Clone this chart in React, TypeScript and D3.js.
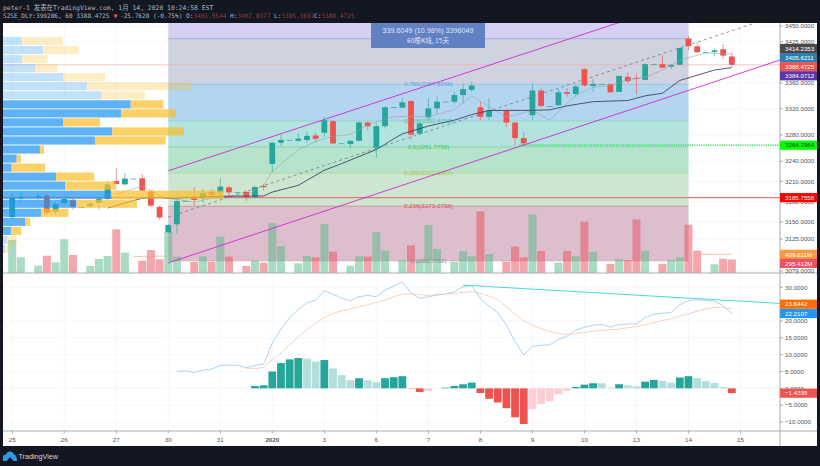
import React from "react";
import * as d3 from "d3";

const W = 820, H = 466;
const paneL = 3, axisX = 780, paneR = 817, top = 23, priceBottom = 273, macdBottom = 431, timeBottom = 446;

const firstSlot = -18;
// open, high, low, close per slot; flat bars carry no trades
const candles: number[][] = [
  [3157,3193,3153,3185.4],[3184.6,3193,3179,3187],[3187,3187,3187,3187],[3186,3193,3182,3188],[3189,3191.6,3161.6,3163.6],[3165,3179,3161,3176],
  [3178,3188,3174,3184],[3182,3186,3168,3172],[3172,3172,3172,3172],[3173,3179,3171,3177],[3178,3187,3168,3184],[3184,3210.5,3182,3205.5],
  [3210.5,3229.5,3205.5,3206],[3205.5,3222.5,3203.5,3214],[3214,3214,3214,3214],[3214.5,3220.5,3195,3196.3],[3195,3197,3172,3174],[3172,3174,3153,3156.5],
  [3135,3147,3134,3145.5],[3146.6,3185.4,3133.3,3180.7],[3180.7,3180.7,3180.7,3180.7],[3186.5,3201,3174.5,3182.3],[3185,3197.8,3178,3192.7],[3194.2,3198,3188,3190],
  [3193.6,3214.5,3185.4,3202],[3201,3204.5,3185,3193.6],[3193.6,3193.6,3193.6,3193.6],[3194.2,3196,3181,3186.5],[3186.5,3203.5,3185,3201.5],[3203,3206.5,3196,3201.4],
  [3236,3270,3223.5,3268],[3268,3280,3263,3272.3],[3272.3,3272.3,3272.3,3272.3],[3271,3282.2,3269,3274.3],[3272.3,3284.7,3268,3278.5],[3279,3284.2,3268,3274],
  [3283.2,3307.6,3277,3302.5],[3300.9,3303.2,3266,3267],[3267,3267,3267,3267],[3266,3272,3260,3271],[3271,3300.2,3269.6,3298.9],[3298.9,3300.2,3287.2,3293.2],
  [3260.4,3297.8,3245.4,3293.2],[3293.2,3324.2,3289.6,3322.2],[3322.2,3322.2,3322.2,3322.2],[3321.6,3336.2,3321.2,3329.9],[3331.9,3333.2,3272.3,3280.3],[3281.9,3299.2,3279.2,3297.4],
  [3306.7,3336.2,3302.5,3320.6],[3320.6,3338.6,3312.9,3330.9],[3330.9,3330.9,3330.9,3330.9],[3330.9,3346.2,3328.2,3341.2],[3341.2,3359.5,3328.2,3350.4],[3349.3,3362.2,3346.2,3356],
  [3322.2,3330.9,3302.5,3307.6],[3307.6,3336.2,3302.5,3318],[3318,3318,3318,3318],[3316.5,3318.2,3292.2,3298.9],[3298.9,3299.2,3264.5,3275],[3275,3284.2,3263,3267],
  [3310.2,3359.5,3302.2,3348.2],[3348.2,3352.5,3322.2,3324.2],[3324.2,3324.2,3324.2,3324.2],[3325.7,3350.5,3324.2,3345.4],[3345.9,3351.9,3337.7,3343.2],[3342.8,3357,3338.6,3354.5],
  [3381.5,3383.5,3354.5,3356],[3355.5,3365.9,3346.2,3358.5],[3358.5,3358.5,3358.5,3358.5],[3358.1,3359.5,3345.2,3345.4],[3346.2,3371.5,3345.9,3371],[3369.5,3376.5,3359.5,3362.8],
  [3367.9,3375.5,3341.2,3366.3],[3364.8,3390.5,3363.5,3389.5],[3389.5,3389.5,3389.5,3389.5],[3389.5,3404,3383,3383.9],[3385.5,3389.5,3381.5,3388.5],[3388.5,3416,3387.5,3415],
  [3430,3434,3411.8,3418],[3417.5,3424.7,3408,3408.3],[3408.3,3408.3,3408.3,3408.3],[3408.7,3414.4,3401.4,3411.3],[3413,3421,3398,3403],[3401.55,3407.84,3385.17,3388.47],
];
// millions; one per slot
const volumes = [
  726,345,0,160,380,235, 741,396,0,154,308,374, 961,447,0,271,506,301,
  902,359,0,242,367,249, 799,359,0,154,271,227, 1093,594,0,213,374,345,
  1078,469,0,160,367,359, 902,491,0,286,609,264, 1056,528,0,249,477,367,
  1357,418,0,249,579,345, 1283,484,0,227,484,367, 1129,469,0,198,301,286,
  1181,491,0,198,286,345, 1063,491,0,191,315,295.412,
];
const volMaSlotsA = [-4,-2,0];
const volMaValuesA = [360,370,370];
const volMaSlotsB = [61,63,65];
const volMaValuesB = [412,410,409.811];

const maLongSlots = [-7,-3,-1,0,5,11,12,15,18,20,24,26,27,30,33,35,37,42,44,46,49,53,55,57,59,60,63,65];
const maLongValues = [3170.4,3185,3186,3184.6,3187.5,3188.3,3194,3204,3226.6,3236.5,3257.7,3274,3281.5,3293.5,3302.5,3311,3317.5,3317.5,3318.4,3324.5,3331,3332.7,3340,3344,3364,3368,3380.3,3384.07];
const maShortSlots = [-6,-3,-1,0,3,6,9,11,12,15,17,19,21,23,26,30,33,35,39,42,44,47,49,51,53,55,57,59,62,65];
const maShortValues = [3190.8,3203,3189.5,3185,3179,3188,3189.5,3204.5,3224.6,3257.7,3270,3278,3280.5,3295.5,3308,3308,3318.4,3340,3307,3317.5,3303,3340.7,3353.5,3356,3364.7,3369,3380.3,3396,3407,3405.62];

const macdSlots = d3.range(1, 66);
const macdValues = [5,5.2,4.7,5.4,5.7,6.8,6.9,6.8,6.1,6.8,7.2,13.5,17.6,21,23.4,25.4,26.2,29,27.9,26.8,26,27.2,27.6,27.2,29.2,30.3,31.6,28.4,26.7,27.2,27.7,28,28.7,30.2,30.5,26.7,24.4,22.5,18.8,13.8,9.9,12.5,12.8,12.9,14.5,15.5,17.3,18.1,18.7,19,18.2,19,19.1,19.1,21,22,22.3,22.5,24.8,26.1,26.3,26.1,25.9,24.5,22.2107];
const signalSlots = d3.range(9, 66);
const signalValues = [6,5.8,6.3,8.6,10.4,12.9,15.3,17.5,19.3,21,22.2,23,23.6,24.2,24.8,25.5,26.2,27.2,28,28,27.9,27.5,27.8,28,28.2,28.5,28.7,28.2,27.4,26.4,24.2,22,20,18.8,17.7,16.9,16.3,16,16.3,16.6,17,17.2,17.4,17.6,18,18.3,18.9,19.5,20.1,20.7,21.5,22.1,22.9,23.6,24,24,23.6442];
const histSlots = d3.range(10, 66);
const histValues = [0.7,0.9,5,7.5,8.6,9,8.8,7.9,8.4,5.9,3.9,2.4,3,2.4,1.8,3,3.3,3.6,-0.1,-1.1,-0.8,-0.05,0.2,0.7,1.2,1.7,-1.4,-3.1,-4.2,-5.9,-8.6,-10.6,-6.2,-4.7,-3.8,-1.8,-0.7,0.4,1.1,1.5,1.5,0.2,1.2,0.9,0.6,2,2.5,2.2,1.7,3.2,3.6,3,2.1,1.6,0.4,-1.4335];

const profileUp = [8.7,18.2,8.7,14.5,27.3,38.1,44.3,57.8,53.4,27.3,49.5,41.6,16.7,6.2,3.9,24,28.2,49.2,33.3,17.2,10,3.6,1.8,1];
const profileDown = [18.3,16,11.5,10,18.9,47.2,19.9,14.8,24.9,16.6,32.3,32,1.9,1.9,15.2,17.3,22.9,50.8,27.3,12.4,2.3,4.7,4.4,2];
const profileValueArea = [7, 21];

const fibRatios = [1, 0.786, 0.618, 0.5, 0.382, 0.236, 0];
const fibPrices = [3429.78, 3357.8698, 3301.423, 3261.7759, 3222.1287, 3173.0738, 3093.7752];
const fibLabels = ["", "0.786(3357.8698)", "0.618(3301.4230)", "0.5(3261.7759)", "0.382(3222.1287)", "0.236(3173.0738)", "0(3093.7752)"];
const fibFills = ["#cfd2df", "#b4d5ef", "#b2e3df", "#b6e3cb", "#cce6d0", "#dcbecd"];
const fibLineCols = ["#9fa8da", "#90bde6", "#8fd0c8", "#7fd69b", "#b7d88f", "#d98a95", "#d9a5b0"];
const fibTextCols = ["", "#64a8e0", "#4fc3a8", "#43c95a", "#a5cf3a", "#e0524f", "#8a8f9c"];

const priceTicks = [3450, 3425, 3360, 3320, 3280, 3240, 3210, 3180, 3150, 3125, 3079];
const macdTicks = [30, 20, 15, 10, 5, 0, -5, -10];
const dayLabels = ["25","26","27","30","31","2020","3","6","7","8","9","10","13","14","15"];

const channelLower = [[0, 3090.6], [70.55, 3396]];
const channelUpper = [[0, 3225.7], [52.5, 3458]];
const channelMid = [[0, 3157], [67.5, 3454]];
const trendSlots = [34, 70.6];
const trendValues = [30.65, 25.2];

const priceLabels = [
  { v: 3414.2353, bg: "#4a4a4a", fg: "#fff" },
  { v: 3405.6211, bg: "#2e7fb0", fg: "#fff" },
  { v: 3388.4725, bg: "#ef5350", fg: "#fff" },
  { v: 3384.0712, bg: "#5e35a8", fg: "#fff" },
];

const x = d3.scaleLinear().domain([firstSlot, 66]).range([12.2, 740.5]);
const y = d3.scaleLog().domain([3076.2, 3454.9]).range([priceBottom, top]);
const yVol = d3.scaleLinear().domain([0, 5500]).range([priceBottom, top]);
const yMacd = d3.scaleLinear().domain([-10, 30]).range([422, 287.3]);
const profX = d3.scaleLinear().domain([0, 100]).range([paneL, 224]);
const profY = d3.scaleBand<number>().domain(d3.range(profileUp.length)).range([37, 37 + 9 * profileUp.length]).paddingInner(0.1);

const fmt4 = d3.format(".4f");
const axisFont = "'Liberation Sans', sans-serif";
const monoFont = "'DejaVu Sans Mono', 'Noto Sans CJK SC', monospace";
const UP = "#26a69a", DOWN = "#ef5350";

const lineOf = (xs: number[], vs: number[], yScale: (v: number) => number) =>
  d3.line<number>().x((s) => x(s)).y((_, i) => yScale(vs[i]))(xs) || "";
const seg = (pts: number[][]) => d3.line<number[]>().x((p) => x(p[0])).y((p) => y(p[1]))(pts) || "";

const stacked = (vals: number[], scale: (v: number) => number, gap: number) => {
  const out: number[] = [];
  vals.forEach((v, i) => out.push(i === 0 ? scale(v) : Math.max(scale(v), out[i - 1] + gap)));
  return out;
};

function AxisLabel({ yPos, bg, fg, text }: { yPos: number; bg: string; fg: string; text: string }) {
  return (
    <g>
      <rect x={axisX} y={yPos - 4.6} width={paneR - axisX} height={9.2} fill={bg} />
      <text x={785} y={yPos + 2.2} fontSize={6.2} fill={fg} fontFamily={axisFont}>{text}</text>
    </g>
  );
}

export default function App() {
  const bw = 5.8;
  const fibX0 = x(0), fibX1 = x(60);
  const priceStack = stacked(priceLabels.map((l) => l.v), y, 9.1);
  const volStack = stacked([409.811, 295.412], yVol, 9);
  return (
    <svg width={W} height={H} viewBox={`0 0 ${W} ${H}`} style={{ position: "fixed", left: 0, top: 0, display: "block" }}>
      <defs>
        <clipPath id="pricePane"><rect x={paneL} y={top} width={axisX - paneL} height={priceBottom - top} /></clipPath>
        <clipPath id="macdPane"><rect x={paneL} y={priceBottom} width={axisX - paneL} height={macdBottom - priceBottom} /></clipPath>
      </defs>
      <rect width={W} height={H} fill="#131722" />
      <rect x={paneL} y={top} width={paneR - paneL} height={timeBottom - top} fill="#fff" />

      {/* grid */}
      {dayLabels.map((_, i) => (
        <line key={i} x1={x(firstSlot + i * 6)} x2={x(firstSlot + i * 6)} y1={top} y2={macdBottom} stroke="#f0f3fa" strokeWidth={0.7} />
      ))}
      {priceTicks.map((t) => <line key={t} x1={paneL} x2={axisX} y1={y(t)} y2={y(t)} stroke="#f0f3fa" strokeWidth={0.7} />)}
      {macdTicks.map((t) => <line key={t} x1={paneL} x2={axisX} y1={yMacd(t)} y2={yMacd(t)} stroke="#f0f3fa" strokeWidth={0.7} />)}

      {/* fib retracement */}
      <g clipPath="url(#pricePane)">
        <rect x={fibX0} y={top} width={fibX1 - fibX0} height={y(fibPrices[0]) - top} fill="#d3d0f2" />
        {fibFills.map((c, i) => (
          <rect key={i} x={fibX0} y={y(fibPrices[i])} width={fibX1 - fibX0} height={y(fibPrices[i + 1]) - y(fibPrices[i])} fill={c} />
        ))}
        {fibRatios.map((r, i) => (
          <line key={r} x1={fibX0} x2={fibX1} y1={y(fibPrices[i])} y2={y(fibPrices[i])} stroke={fibLineCols[i]} strokeWidth={0.9} />
        ))}
        {/* volume */}
        {volumes.map((v, i) => v > 0 && (
          <rect key={i} x={x(firstSlot + i) - 4} width={8} y={yVol(v)} height={priceBottom - yVol(v)}
            fill={candles[i][3] >= candles[i][0] ? "#53b987" : "#eb4d5c"} opacity={0.5} />
        ))}
        <path d={lineOf(volMaSlotsA, volMaValuesA, yVol)} fill="none" stroke="#f5a58f" strokeWidth={0.7} />
        <path d={lineOf(volMaSlotsB, volMaValuesB, yVol)} fill="none" stroke="#f5a58f" strokeWidth={0.7} />
        {fibLabels.map((t, i) => t && (
          <text key={i} x={x(30)} y={y(fibPrices[i]) + 2} textAnchor="middle" fontSize={6.2} fill={fibTextCols[i]} fontFamily={axisFont}>{t}</text>
        ))}
        {/* horizontal levels */}
        <line x1={paneL} x2={axisX} y1={y(3388.4725)} y2={y(3388.4725)} stroke="#f6b0ae" strokeWidth={0.7} />
        <line x1={paneL} x2={axisX} y1={y(3185.7558)} y2={y(3185.7558)} stroke="#f0787a" strokeWidth={1.4} />
        <line x1={x(40.5)} x2={axisX} y1={y(3264.2964)} y2={y(3264.2964)} stroke="#22e04a" strokeWidth={1.2} strokeDasharray="1.3 1" />
        {/* channel */}
        <path d={seg(channelLower)} fill="none" stroke="#d41fd8" strokeWidth={1} opacity={0.85} />
        <path d={seg(channelUpper)} fill="none" stroke="#d41fd8" strokeWidth={1} opacity={0.85} />
        <path d={seg(channelMid)} fill="none" stroke="#787b86" strokeWidth={0.8} strokeDasharray="3 3" />
        {/* candles */}
        {candles.map((c, i) => {
          const [o, h, l, cl] = c;
          const col = cl >= o ? UP : DOWN;
          const cx = x(firstSlot + i);
          const yT = y(Math.max(o, cl)), yB = y(Math.min(o, cl));
          return (
            <g key={i}>
              <line x1={cx} x2={cx} y1={y(h)} y2={y(l)} stroke={col} strokeWidth={0.6} />
              <rect x={cx - bw / 2} y={yT} width={bw} height={Math.max(0.7, yB - yT)} fill={col} />
            </g>
          );
        })}
        {/* moving averages */}
        <path d={lineOf(maShortSlots, maShortValues, y)} fill="none" stroke="#8fa3ad" strokeWidth={0.7} opacity={0.8} />
        <path d={lineOf(maLongSlots, maLongValues, y)} fill="none" stroke="#3d4666" strokeWidth={0.9} />
        {/* volume profile */}
        {profileUp.map((u, i) => {
          const solid = i >= profileValueArea[0] && i <= profileValueArea[1];
          const ry = profY(i) as number, rh = profY.bandwidth();
          return (
            <g key={i} opacity={solid ? 0.72 : 0.27}>
              <rect x={profX(0)} y={ry} width={profX(u) - profX(0)} height={rh} fill="#2196f3" />
              <rect x={profX(u)} y={ry} width={profX(u + profileDown[i]) - profX(u)} height={rh} fill="#fbc02d" />
            </g>
          );
        })}
      </g>

      {/* measure tooltip */}
      <rect x={371} y={23} width={114} height={25} fill="#5b7cc0" opacity={0.95} />
      <text x={428} y={32.5} textAnchor="middle" fontSize={7.2} fill="#dfe6f5" fontFamily={axisFont}>339.6049 (10.98%) 3396049</text>
      <text x={428} y={43} textAnchor="middle" fontSize={6.6} fill="#dfe6f5" fontFamily="'Noto Sans CJK SC', sans-serif">60根K线, 15天</text>

      {/* macd */}
      <g clipPath="url(#macdPane)">
        {histSlots.map((s, i) => {
          const v = histValues[i];
          const prev = i > 0 ? histValues[i - 1] : 0;
          const col = v >= 0 ? (v > prev ? UP : "#b2dfdb") : (v < prev ? DOWN : "#ffcdd2");
          const y0 = yMacd(0), yv = yMacd(v);
          return <rect key={s} x={x(s) - 3.9} width={7.8} y={Math.min(y0, yv)} height={Math.abs(yv - y0)} fill={col} />;
        })}
        <path d={lineOf(macdSlots, macdValues, yMacd)} fill="none" stroke="#90bfe0" strokeWidth={0.7} />
        <path d={lineOf(signalSlots, signalValues, yMacd)} fill="none" stroke="#eec4a5" strokeWidth={0.7} />
        <path d={lineOf(trendSlots, trendValues, yMacd)} fill="none" stroke="#4dd9dc" strokeWidth={1} />
      </g>

      {/* frame lines */}
      <line x1={paneL} x2={paneR} y1={priceBottom} y2={priceBottom} stroke="#a9adb5" strokeWidth={1} />
      <line x1={paneL} x2={paneR} y1={macdBottom} y2={macdBottom} stroke="#a9adb5" strokeWidth={1} />
      <line x1={axisX} x2={axisX} y1={top} y2={timeBottom} stroke="#a9adb5" strokeWidth={1} />

      {/* axes */}
      {priceTicks.map((t) => (
        <g key={t}>
          <line x1={axisX} x2={axisX + 3} y1={y(t)} y2={y(t)} stroke="#787b86" strokeWidth={0.6} />
          <text x={785} y={y(t) + 2.2} fontSize={6.2} fill="#50535e" fontFamily={axisFont}>{fmt4(t)}</text>
        </g>
      ))}
      {macdTicks.map((t) => (
        <g key={t}>
          <line x1={axisX} x2={axisX + 3} y1={yMacd(t)} y2={yMacd(t)} stroke="#787b86" strokeWidth={0.6} />
          <text x={785} y={yMacd(t) + 2.2} fontSize={6.2} fill="#50535e" fontFamily={axisFont}>{fmt4(t)}</text>
        </g>
      ))}
      {dayLabels.map((d, i) => (
        <g key={i}>
          <line x1={x(firstSlot + i * 6)} x2={x(firstSlot + i * 6)} y1={macdBottom} y2={macdBottom + 2.5} stroke="#787b86" strokeWidth={0.6} />
          <text x={x(firstSlot + i * 6)} y={441.5} textAnchor="middle" fontSize={6.2} fill="#50535e" fontFamily={axisFont} fontWeight={d === "2020" ? 700 : 400}>{d}</text>
        </g>
      ))}
      {priceLabels.map((l, i) => <AxisLabel key={l.v} yPos={priceStack[i]} bg={l.bg} fg={l.fg} text={fmt4(l.v)} />)}
      <AxisLabel yPos={y(3264.2964)} bg="#00ff00" fg="#1b3a1b" text="3264.2964" />
      <AxisLabel yPos={y(3185.7558)} bg="#ff0000" fg="#fff" text="3185.7558" />
      <AxisLabel yPos={volStack[0]} bg="#ff9a3c" fg="#fff" text="409.811M" />
      <AxisLabel yPos={volStack[1]} bg="#ef4f63" fg="#fff" text="295.412M" />
      <AxisLabel yPos={yMacd(23.6442) - 4.5} bg="#ff6d00" fg="#fff" text="23.6442" />
      <AxisLabel yPos={yMacd(23.6442) + 4.8} bg="#2196f3" fg="#fff" text="22.2107" />
      <AxisLabel yPos={yMacd(-1.4335)} bg="#ef5350" fg="#fff" text={"\u22121.4335"} />

      {/* header */}
      <text x={3} y={9.5} fontSize={6.4} fill="#b2b5be" fontFamily={monoFont}>peter-1 发表在TradingView.com, 1月 14, 2020 10:24:58 EST</text>
      <text x={3} y={18.3} fontSize={6.1} fill="#b2b5be" fontFamily={monoFont}>SZSE_DLY:399286, 60 3388.4725</text>
      <text x={113.5} y={18.3} fontSize={6.5} fill="#ef5350" fontFamily={monoFont}>▼</text>
      <text x={120} y={18.3} fontSize={6.1} fill="#b2b5be" fontFamily={monoFont}>-25.7628 (-0.75%)</text>
      {[["O:", "3401.5544", 186], ["H:", "3407.8377", 230], ["L:", "3385.1692", 274], ["C:", "3388.4725", 314]].map(([k, v, px]) => (
        <text key={k as string} x={px as number} y={18.3} fontSize={6.1} fontFamily={monoFont} fill="#b2b5be">
          {k as string}<tspan fill="#8f3c42">{v as string}</tspan>
        </text>
      ))}

      {/* footer logo */}
      <path d="M3 461 L3 457 Q3 454.5 6 454.5 Q7 451.5 10 451.5 Q13 451.5 14 454.5 Q17 455 17 461 Z" fill="#2e9be6" />
      <path d="M6.5 461 L10 457 L13.5 461 Z" fill="#131722" />
      <text x={18.5} y={459} fontSize={7.2} fill="#d1d4dc" fontFamily={axisFont}>TradingView</text>
    </svg>
  );
}
